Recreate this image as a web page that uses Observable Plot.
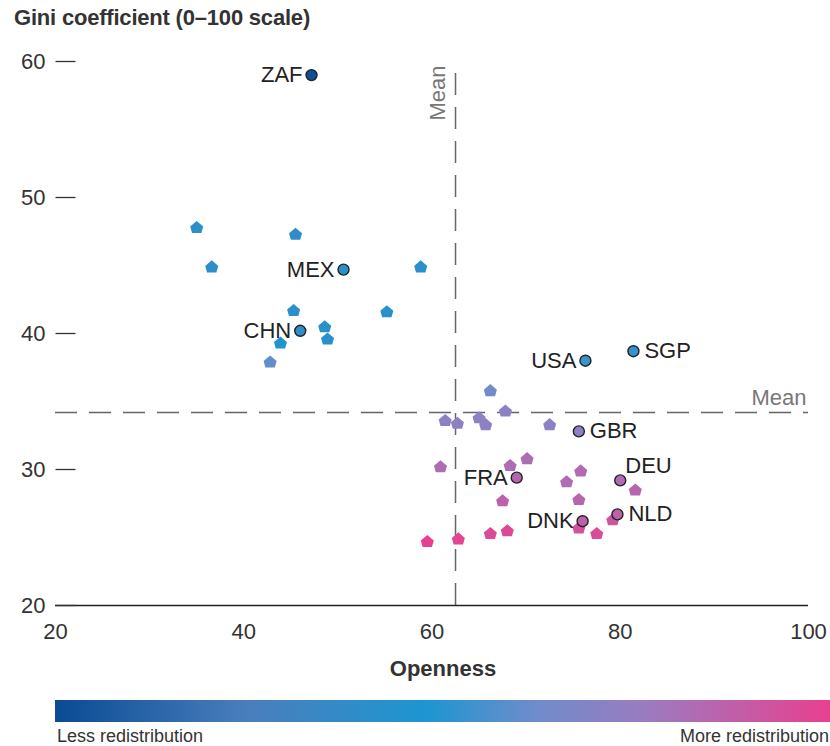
<!DOCTYPE html>
<html>
<head>
<meta charset="utf-8">
<script src="https://cdn.jsdelivr.net/npm/d3@7"></script>
<script src="https://cdn.jsdelivr.net/npm/@observablehq/plot@0.6"></script>
<style>
  html, body { margin: 0; padding: 0; background: #fff; }
  body { width: 830px; height: 746px; position: relative; overflow: hidden;
         font-family: "Liberation Sans", Arial, sans-serif; color: #333; }
  #title { position: absolute; left: 14px; top: 5px; font-weight: bold; font-size: 22px; color: #333; letter-spacing: -0.2px; z-index: 2; }
  #chart { position: absolute; left: 0; top: 0; }
  #legend { position: absolute; left: 55px; top: 700px; width: 775px; }
  #bar { height: 22px; width: 775px; }
  #legend .lab { position: absolute; top: 26px; font-size: 18px; color: #333; white-space: nowrap; }
  #legend .l { left: 2px; }
  #legend .r { right: 1px; }
</style>
</head>
<body>
<div id="title">Gini coefficient (0–100 scale)</div>
<div id="chart"></div>
<div id="legend"><div id="bar"></div><div class="lab l">Less redistribution</div><div class="lab r">More redistribution</div></div>
<script>
// ---- Data ----
const codes = ["ZAF","MEX","CHN","USA","SGP","GBR","FRA","DEU","DNK","NLD",
  "","","","","","","","","","",
  "","","","","","","","","","","","","","","","",
  "","","","","",""];
const openness = [47.2,50.6,46.0,76.3,81.4,75.6,69.0,80.0,76.0,79.7,
  35.0,45.5,36.6,58.8,45.3,55.2,48.6,48.9,43.9,42.8,
  66.2,67.8,65.0,65.7,61.4,62.7,72.5,60.9,68.3,70.1,67.5,74.3,75.8,75.6,81.6,79.2,
  59.5,62.8,66.2,68.0,75.6,77.5];
const gini = [59.0,44.7,40.2,38.0,38.7,32.8,29.4,29.2,26.2,26.7,
  47.8,47.3,44.9,44.9,41.7,41.6,40.5,39.6,39.3,37.9,
  35.8,34.3,33.8,33.3,33.6,33.4,33.3,30.2,30.3,30.8,27.7,29.1,29.9,27.8,28.5,26.3,
  24.7,24.9,25.3,25.5,25.7,25.3];
const redistribution = [0.02,0.42,0.40,0.53,0.52,0.72,0.85,0.83,0.87,0.87,
  0.40,0.40,0.40,0.42,0.42,0.42,0.42,0.42,0.45,0.60,
  0.63,0.72,0.72,0.72,0.72,0.72,0.72,0.82,0.82,0.82,0.87,0.83,0.83,0.85,0.85,0.91,
  1.0,0.98,0.96,0.96,0.93,0.95];
const meanOpenness = 62.5;
const meanGini = 34.2;
const xTicks = [20,40,60,80,100];
const yTicks = [20,30,40,50,60];
const stopPos = [0,0.25,0.48,0.62,0.76,1];
const stopColors = ["#0a4b94","#4a7fbd","#1d96d1","#6f8ccb","#9a7cc0","#e8408f"];
const labelRight = ["SGP","GBR","NLD"];
const labelAbove = ["DEU"];

const rows = codes.map((c,i)=>({code:c, x:openness[i], y:gini[i], r:redistribution[i]}));
const named = rows.filter(d=>d.code);
const unnamed = rows.filter(d=>!d.code);

const house = {draw(ctx, size){
  const r = Math.sqrt(size/Math.PI);
  ctx.moveTo(0, -r);
  ctx.lineTo(r, -0.15*r);
  ctx.lineTo(0.72*r, 0.85*r);
  ctx.lineTo(-0.72*r, 0.85*r);
  ctx.lineTo(-r, -0.15*r);
  ctx.closePath();
}};
const dash = {draw(ctx){ ctx.moveTo(0,0); ctx.lineTo(20,0); }};

const chart = Plot.plot({
  width: 830, height: 690,
  marginLeft: 55, marginRight: 22, marginTop: 61, marginBottom: 85,
  x: {domain:[20,100]},
  y: {domain:[20,60]},
  color: {type:"linear", domain: stopPos, range: stopColors},
  style: {fontFamily:"'Liberation Sans', Arial, sans-serif", fontSize:"22px", color:"#333", background:"transparent", overflow:"visible"},
  marks: [
    Plot.ruleX([meanOpenness], {x: d=>d, y1: 20, y2: 60, stroke:"#666", strokeWidth:1.5, strokeDasharray:"22,12"}),
    Plot.ruleY([meanGini], {y: d=>d, stroke:"#666", strokeWidth:1.5, strokeDasharray:"22,12"}),
    Plot.text(["Mean"], {x: meanOpenness, y: 60, rotate:-90, textAnchor:"end", dx:-18, dy:4, fill:"#777", fontSize:22}),
    Plot.text(["Mean"], {y: meanGini, frameAnchor:"right", textAnchor:"end", dy:-14, dx:-2, fill:"#777", fontSize:22}),
    Plot.ruleY([20], {stroke:"#222", strokeWidth:1.5}),
    Plot.dot(yTicks, {y: d=>d, frameAnchor:"left", symbol: dash, r:5, fill:"none", stroke:"#333", strokeWidth:1.3}),
    Plot.axisY({ticks: yTicks, tickSize: 0, tickPadding: 10, fontSize: 22, label: null}),
    Plot.axisX({ticks: xTicks, tickSize: 0, tickPadding: 18, fontSize: 22, label: null}),
    Plot.text(["Openness"], {frameAnchor:"bottom", dy: 70, dx: 11, fontWeight:"bold", fontSize:22, fill:"#333"}),
    Plot.dot(unnamed, {x:"x", y:"y", fill:"r", symbol: house, r:6.5}),
    Plot.dot(named, {x:"x", y:"y", fill:"r", r:5.5, stroke:"#222", strokeWidth:1.4}),
    Plot.text(named.filter(d=>!labelRight.includes(d.code) && !labelAbove.includes(d.code)), {x:"x", y:"y", text:"code", textAnchor:"end", dx:-9, fill:"#222", fontSize:22}),
    Plot.text(named.filter(d=>labelRight.includes(d.code)), {x:"x", y:"y", text:"code", textAnchor:"start", dx:11, fill:"#222", fontSize:22}),
    Plot.text(named.filter(d=>labelAbove.includes(d.code)), {x:"x", y:"y", text:"code", textAnchor:"start", dx:5, dy:-14, fill:"#222", fontSize:22})
  ]
});
document.getElementById("chart").appendChild(chart);
document.getElementById("bar").style.background =
  "linear-gradient(to right, " + stopPos.map((p,i)=>stopColors[i]+" "+(p*100)+"%").join(", ") + ")";
</script>
</body>
</html>
